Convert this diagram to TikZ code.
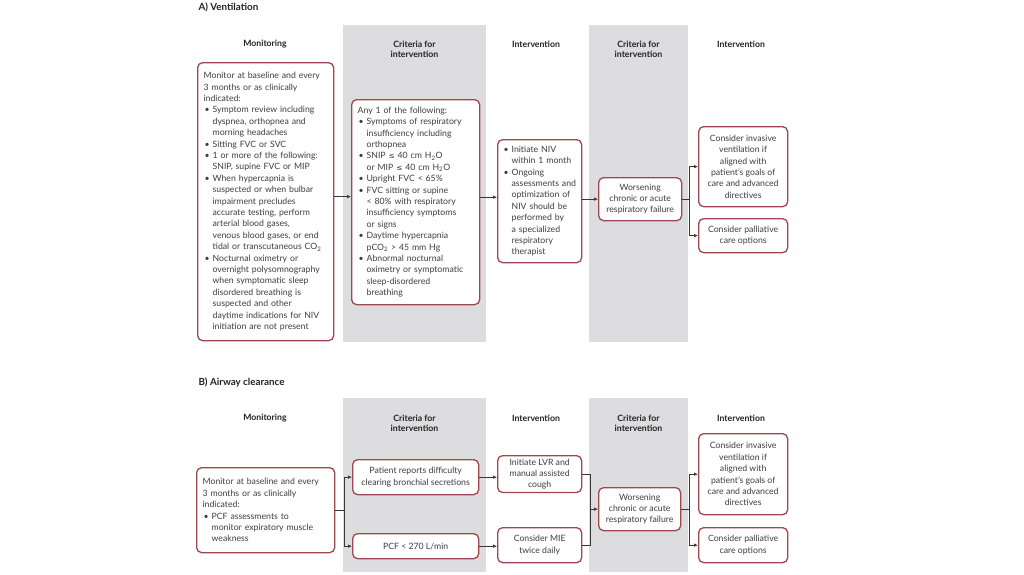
\documentclass[tikz,border=0pt]{standalone}
\usepackage{fontspec}
\setmainfont{Lato}
\newfontfamily\symf[Scale=0.85]{DejaVu Sans}
\usetikzlibrary{arrows.meta,calc}
\definecolor{boxred}{RGB}{158,72,78}
\definecolor{bandgray}{RGB}{221,221,223}
\definecolor{txt}{RGB}{62,62,62}
\definecolor{hdrc}{RGB}{35,35,35}
\definecolor{arrc}{RGB}{55,55,55}
\newcommand\bl{\makebox[9pt][l]{\hspace{1pt}•}}
\newcommand\ct{\hspace*{9pt}}
\newcommand\lte{{\symf ≤}}
\begin{document}
\begin{tikzpicture}[x=1pt,y=-1pt,
 box/.style={draw=boxred, line width=1.3pt, rounded corners=5pt, fill=white, text=txt,
   inner xsep=6pt, inner ysep=3pt, font=\fontsize{8.7}{11.4}\selectfont, anchor=north west},
 lbox/.style={box, align=left},
 cbox/.style={box, align=center},
 hdr/.style={font=\bfseries\fontsize{8.7}{10}\selectfont, text=hdrc, align=center},
 ttl/.style={font=\bfseries\fontsize{9.8}{11}\selectfont, text=hdrc, anchor=west},
 arr/.style={draw=arrc, line width=0.7pt, -{Latex[length=4pt,width=3.6pt]}},
 ln/.style={draw=arrc, line width=0.7pt}]

\useasboundingbox[fill=white] (0,0) rectangle (1024,574);

% bands
\fill[bandgray] (343,25) rectangle (486,342);
\fill[bandgray] (589,25) rectangle (688,342);
\fill[bandgray] (343,398) rectangle (486,572);
\fill[bandgray] (589,398) rectangle (688,572);

% titles
\node[ttl] (tA) at (195,7) {A) Ventilation};
\node[ttl] (tB) at (195,382) {B) Airway clearance};

% headers A
\node[hdr] (hA1) at (265,44) {Monitoring};
\node[hdr] (hA2) at (414.5,49) {Criteria for\\intervention};
\node[hdr] (hA3) at (536,44) {Intervention};
\node[hdr] (hA4) at (638.5,49) {Criteria for\\intervention};
\node[hdr] (hA5) at (741,44) {Intervention};
% headers B
\node[hdr] (hB1) at (265,418) {Monitoring};
\node[hdr] (hB2) at (414.5,423) {Criteria for\\intervention};
\node[hdr] (hB3) at (536,418) {Intervention};
\node[hdr] (hB4) at (638.5,423) {Criteria for\\intervention};
\node[hdr] (hB5) at (741,418) {Intervention};

% ---- A boxes
\node[lbox, minimum width=136pt, minimum height=278pt, text width=124pt] (mA) at (197,62) {%
Monitor at baseline and every\\
3 months or as clinically\\
indicated:\\
\bl Symptom review including\\
\ct dyspnea, orthopnea and\\
\ct morning headaches\\
\bl Sitting FVC or SVC\\
\bl 1 or more of the following:\\
\ct SNIP, supine FVC or MIP\\
\bl When hypercapnia is\\
\ct suspected or when bulbar\\
\ct impairment precludes\\
\ct accurate testing, perform\\
\ct arterial blood gases,\\
\ct venous blood gases, or end\\
\ct tidal or transcutaneous CO\textsubscript{2}\\
\bl Nocturnal oximetry or\\
\ct overnight polysomnography\\
\ct when symptomatic sleep\\
\ct disordered breathing is\\
\ct suspected and other\\
\ct daytime indications for NIV\\
\ct initiation are not present};

\node[lbox, minimum width=128pt, minimum height=205pt, text width=116pt] (cA) at (351,99) {%
Any 1 of the following:\\
\bl Symptoms of respiratory\\
\ct insufficiency including\\
\ct orthopnea\\
\bl SNIP \lte\ 40 cm H\textsubscript{2}O\\
\ct or MIP \lte\ 40 cm H\textsubscript{2}O\\
\bl Upright FVC < 65\%\\
\bl FVC sitting or supine\\
\ct < 80\% with respiratory\\
\ct insufficiency symptoms\\
\ct or signs\\
\bl Daytime hypercapnia\\
\ct pCO\textsubscript{2} > 45 mm Hg\\
\bl Abnormal nocturnal\\
\ct oximetry or symptomatic\\
\ct sleep-disordered\\
\ct breathing};

\node[lbox, minimum width=84pt, minimum height=123pt, text width=74pt, inner xsep=5pt] (iA) at (497,139) {%
\bl Initiate NIV\\
\ct within 1 month\\
\bl Ongoing\\
\ct assessments and\\
\ct optimization of\\
\ct NIV should be\\
\ct performed by\\
\ct a specialized\\
\ct respiratory\\
\ct therapist};

\node[cbox, minimum width=83pt, minimum height=43pt] (wA) at (598,177) {Worsening\\chronic or acute\\respiratory failure};
\node[cbox, minimum width=89pt, minimum height=80pt] (vA) at (698,126) {Consider invasive\\ventilation if\\aligned with\\patient's goals of\\care and advanced\\directives};
\node[cbox, minimum width=89pt, minimum height=34pt] (pA) at (698,218) {Consider palliative\\care options};

% ---- B boxes
\node[lbox, minimum width=138pt, minimum height=85pt, text width=126pt] (mB) at (196,467) {%
Monitor at baseline and every\\
3 months or as clinically\\
indicated:\\
\bl PCF assessments to\\
\ct monitor expiratory muscle\\
\ct weakness};
\node[cbox, minimum width=126pt, minimum height=35pt] (c1B) at (352,459) {Patient reports difficulty\\clearing bronchial secretions};
\node[cbox, minimum width=126pt, minimum height=25pt] (c2B) at (352,533) {PCF < 270 L/min};
\node[cbox, minimum width=84pt, minimum height=35pt] (lB) at (497,455) {Initiate LVR and\\manual assisted\\cough};
\node[cbox, minimum width=84pt, minimum height=35pt] (eB) at (497,527) {Consider MIE\\twice daily};
\node[cbox, minimum width=82pt, minimum height=43pt] (wB) at (598,487) {Worsening\\chronic or acute\\respiratory failure};
\node[cbox, minimum width=89pt, minimum height=81pt] (vB) at (698,433) {Consider invasive\\ventilation if\\aligned with\\patient's goals of\\care and advanced\\directives};
\node[cbox, minimum width=89pt, minimum height=35pt] (pB) at (698,527) {Consider palliative\\care options};

% ---- A connectors
\draw[arr] ([yshift=5pt]mA.east) -- ([yshift=5pt]mA.east -| cA.west);
\draw[arr] ([yshift=5pt]cA.east) -- ([yshift=5pt]cA.east -| iA.west);
\draw[arr] (iA.east |- wA.west) -- (wA.west);
\coordinate (jA) at ($(wA.east)+(7,0)$);
\draw[ln] (wA.east) -- (jA);
\draw[ln] (jA |- vA.west) -- (jA |- pA.west);
\draw[arr] (jA |- vA.west) -- (vA.west);
\draw[arr] (jA |- pA.west) -- (pA.west);

% ---- B connectors
\coordinate (jB1) at ($(mB.east)+(9,0)$);
\draw[ln] (mB.east) -- (jB1);
\draw[ln] (jB1 |- c1B.west) -- (jB1 |- c2B.west);
\draw[arr] (jB1 |- c1B.west) -- (c1B.west);
\draw[arr] (jB1 |- c2B.west) -- (c2B.west);
\draw[arr] (c1B.east) -- (c1B.east -| lB.west);
\draw[arr] (c2B.east) -- (c2B.east -| eB.west);
\coordinate (jB2) at ($(wB.west)+(-8,0)$);
\draw[ln] (lB.east) -- (lB.east -| jB2) -- (eB.east -| jB2) -- (eB.east);
\draw[arr] (jB2) -- (wB.west);
\coordinate (jB3) at ($(wB.east)+(8,0)$);
\draw[ln] (wB.east) -- (jB3);
\draw[ln] (jB3 |- vB.west) -- (jB3 |- pB.west);
\draw[arr] (jB3 |- vB.west) -- (vB.west);
\draw[arr] (jB3 |- pB.west) -- (pB.west);
\end{tikzpicture}
\end{document}
